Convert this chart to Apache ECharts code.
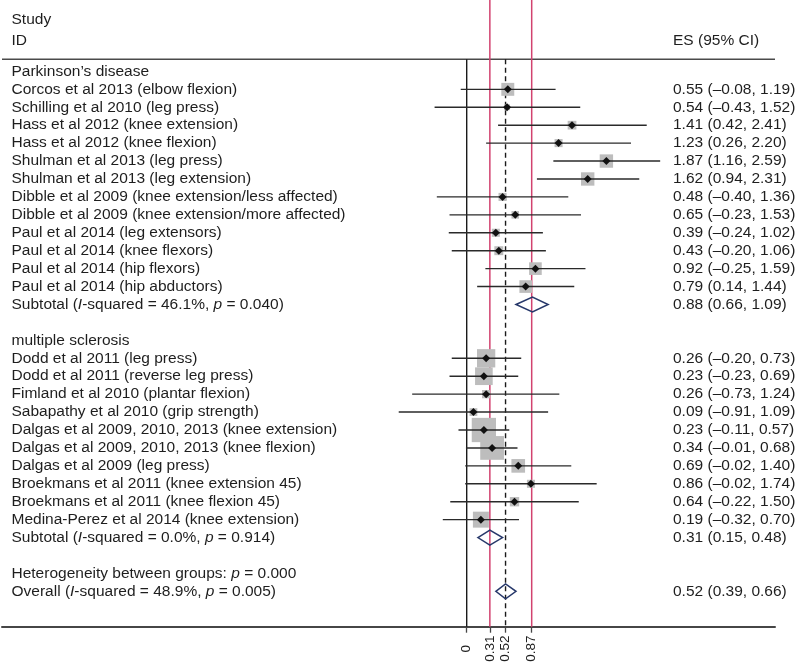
<!DOCTYPE html>
<html><head><meta charset="utf-8">
<script src="https://cdn.jsdelivr.net/npm/echarts@6/dist/echarts.min.js"></script>
<style>html,body{margin:0;padding:0;background:#fff}#c{width:800px;height:666px}</style>
</head><body><div id="c"></div>
<script>
// ---------------- DATA ----------------
const group1Title = 'Parkinson’s disease';
const group1Studies = [
  'Corcos et al 2013 (elbow flexion)',
  'Schilling et al 2010 (leg press)',
  'Hass et al 2012 (knee extension)',
  'Hass et al 2012 (knee flexion)',
  'Shulman et al 2013 (leg press)',
  'Shulman et al 2013 (leg extension)',
  'Dibble et al 2009 (knee extension/less affected)',
  'Dibble et al 2009 (knee extension/more affected)',
  'Paul et al 2014 (leg extensors)',
  'Paul et al 2014 (knee flexors)',
  'Paul et al 2014 (hip flexors)',
  'Paul et al 2014 (hip abductors)'
];
const group1ES = [0.55, 0.54, 1.41, 1.23, 1.87, 1.62, 0.48, 0.65, 0.39, 0.43, 0.92, 0.79];
const group1Lo = [-0.08, -0.43, 0.42, 0.26, 1.16, 0.94, -0.40, -0.23, -0.24, -0.20, 0.25, 0.14];
const group1Hi = [1.19, 1.52, 2.41, 2.20, 2.59, 2.31, 1.36, 1.53, 1.02, 1.06, 1.59, 1.44];
const group1Weight = [4.4, 0.9, 2.0, 1.7, 4.7, 4.7, 1.7, 1.5, 1.7, 2.1, 4.2, 4.2];
const group1Text = [
  '0.55 (–0.08, 1.19)', '0.54 (–0.43, 1.52)', '1.41 (0.42, 2.41)', '1.23 (0.26, 2.20)',
  '1.87 (1.16, 2.59)', '1.62 (0.94, 2.31)', '0.48 (–0.40, 1.36)', '0.65 (–0.23, 1.53)',
  '0.39 (–0.24, 1.02)', '0.43 (–0.20, 1.06)', '0.92 (–0.25, 1.59)', '0.79 (0.14, 1.44)'
];
const group1Subtotal = [0.88, 0.66, 1.09];
const group1SubtotalLabel = 'Subtotal ({i|I}-squared = 46.1%, {i|p} = 0.040)';
const group1SubtotalText = '0.88 (0.66, 1.09)';

const group2Title = 'multiple sclerosis';
const group2Studies = [
  'Dodd et al 2011 (leg press)',
  'Dodd et al 2011 (reverse leg press)',
  'Fimland et al 2010 (plantar flexion)',
  'Sabapathy et al 2010 (grip strength)',
  'Dalgas et al 2009, 2010, 2013 (knee extension)',
  'Dalgas et al 2009, 2010, 2013 (knee flexion)',
  'Dalgas et al 2009 (leg press)',
  'Broekmans et al 2011 (knee extension 45)',
  'Broekmans et al 2011 (knee flexion 45)',
  'Medina-Perez et al 2014 (knee extension)'
];
const group2ES = [0.26, 0.23, 0.26, 0.09, 0.23, 0.34, 0.69, 0.86, 0.64, 0.19];
const group2Lo = [-0.20, -0.23, -0.73, -0.91, -0.11, -0.01, -0.02, -0.02, -0.22, -0.32];
const group2Hi = [0.73, 0.69, 1.24, 1.09, 0.57, 0.68, 1.40, 1.74, 1.50, 0.70];
const group2Weight = [8.8, 8.2, 1.8, 1.6, 15.5, 14.8, 4.9, 1.7, 2.3, 6.7];
const group2Text = [
  '0.26 (–0.20, 0.73)', '0.23 (–0.23, 0.69)', '0.26 (–0.73, 1.24)', '0.09 (–0.91, 1.09)',
  '0.23 (–0.11, 0.57)', '0.34 (–0.01, 0.68)', '0.69 (–0.02, 1.40)', '0.86 (–0.02, 1.74)',
  '0.64 (–0.22, 1.50)', '0.19 (–0.32, 0.70)'
];
const group2Subtotal = [0.31, 0.15, 0.48];
const group2SubtotalLabel = 'Subtotal ({i|I}-squared = 0.0%, {i|p} = 0.914)';
const group2SubtotalText = '0.31 (0.15, 0.48)';

const heterogeneityLabel = 'Heterogeneity between groups: {i|p} = 0.000';
const overall = [0.52, 0.39, 0.66];
const overallLabel = 'Overall ({i|I}-squared = 48.9%, {i|p} = 0.005)';
const overallText = '0.52 (0.39, 0.66)';

const headerLeft1 = 'Study';
const headerLeft2 = 'ID';
const headerRight = 'ES (95% CI)';

const nullLine = 0;
const redLines = [0.31, 0.87];
const dashedLine = 0.52;
const tickValues = [0, 0.31, 0.52, 0.87];

// ---------------- LAYOUT ----------------
const PX_ZERO = 466.7, PX_UNIT = 74.7;
const GRID_L = 2, GRID_R = 775;
const X_MIN = (GRID_L - PX_ZERO) / PX_UNIT;
const X_MAX = (GRID_R - PX_ZERO) / PX_UNIT;
const ROW0_PX = 71.4, ROW_STEP = 17.93, AXIS_PX = 626.7;
const Y_MIN = -ROW0_PX / ROW_STEP;
const Y_MAX = (AXIS_PX - ROW0_PX) / ROW_STEP;
const HEADER_LINE_ROW = (59.3 - ROW0_PX) / ROW_STEP;
const LEFT_TEXT_OFFSET = 9.5;
const RIGHT_TEXT_PX = 673;
const FONT = '"Liberation Sans", Arial, Helvetica, sans-serif';
const FS = 15.5;
const TEXT_COLOR = '#1e1e1e';
const SQ_K = 6.17;
const DIAMOND_H = 7.5;

// build rows
const studyData = [];   // [es, lo, hi, row, w]
const diamondData = []; // [es, lo, hi, row]
const textRows = [];    // {row, left, right}
let r = 0;
textRows.push({row: r++, left: group1Title});
group1Studies.forEach((s, i) => {
  studyData.push([group1ES[i], group1Lo[i], group1Hi[i], r, group1Weight[i]]);
  textRows.push({row: r++, left: s, right: group1Text[i]});
});
diamondData.push([group1Subtotal[0], group1Subtotal[1], group1Subtotal[2], r]);
textRows.push({row: r++, left: group1SubtotalLabel, right: group1SubtotalText});
r++;
textRows.push({row: r++, left: group2Title});
group2Studies.forEach((s, i) => {
  studyData.push([group2ES[i], group2Lo[i], group2Hi[i], r, group2Weight[i]]);
  textRows.push({row: r++, left: s, right: group2Text[i]});
});
diamondData.push([group2Subtotal[0], group2Subtotal[1], group2Subtotal[2], r]);
textRows.push({row: r++, left: group2SubtotalLabel, right: group2SubtotalText});
r++;
textRows.push({row: r++, left: heterogeneityLabel});
diamondData.push([overall[0], overall[1], overall[2], r]);
textRows.push({row: r++, left: overallLabel, right: overallText});
textRows.push({row: (19.5 - ROW0_PX) / ROW_STEP, left: headerLeft1});
textRows.push({row: (40.4 - ROW0_PX) / ROW_STEP, left: headerLeft2, right: headerRight});

// vertical lines: [x, yTopRow, yBottomRow, kind]
const vlines = [
  [nullLine, HEADER_LINE_ROW, Y_MAX, 0],
  [redLines[0], Y_MIN, Y_MAX, 1],
  [redLines[1], Y_MIN, Y_MAX, 1],
  [dashedLine, HEADER_LINE_ROW, Y_MAX, 2]
];
const vStyles = [
  {stroke: '#1a1a1a', lineWidth: 1.4},
  {stroke: '#d2426f', lineWidth: 1.5},
  {stroke: '#1a1a1a', lineWidth: 1.4, lineDash: [5, 3.5]}
];

const richI = {i: {fontStyle: 'italic', fontSize: FS, fontFamily: FONT, fill: TEXT_COLOR}};

const chart = echarts.init(document.getElementById('c'), null, {renderer: 'canvas'});
chart.setOption({
  animation: false,
  backgroundColor: '#fff',
  grid: {left: GRID_L, right: 800 - GRID_R, top: 0, bottom: 666 - AXIS_PX, containLabel: false, outerBoundsMode: 'none'},
  xAxis: {
    type: 'value', min: X_MIN, max: X_MAX,
    splitLine: {show: false},
    axisLine: {show: true, onZero: false, lineStyle: {color: '#464646', width: 2}},
    axisTick: {show: true, customValues: tickValues, length: 6, lineStyle: {color: '#464646', width: 1.3}},
    axisLabel: {
      show: true, customValues: tickValues, rotate: 90, align: 'center', verticalAlign: 'middle',
      margin: 22, fontSize: 13.5, fontFamily: FONT, color: TEXT_COLOR,
      formatter: v => String(Math.round(v * 100) / 100)
    }
  },
  yAxis: {type: 'value', inverse: true, min: Y_MIN, max: Y_MAX, show: false},
  series: [
    {
      type: 'custom', z: 1, silent: true,
      data: [[X_MIN, X_MAX, HEADER_LINE_ROW]],
      renderItem: (params, api) => {
        const a = api.coord([api.value(0), api.value(2)]);
        const b = api.coord([api.value(1), api.value(2)]);
        return {type: 'line', shape: {x1: a[0], y1: a[1], x2: b[0], y2: b[1]}, style: {stroke: '#4a4a4a', lineWidth: 1.4}};
      }
    },
    {
      type: 'custom', z: 2, silent: true,
      data: vlines,
      renderItem: (params, api) => {
        const a = api.coord([api.value(0), api.value(1)]);
        const b = api.coord([api.value(0), api.value(2)]);
        return {type: 'line', shape: {x1: a[0], y1: a[1], x2: b[0], y2: b[1]}, style: Object.assign({}, vStyles[api.value(3)])};
      }
    },
    {
      type: 'custom', z: 3, silent: true,
      data: studyData,
      renderItem: (params, api) => {
        const es = api.value(0), lo = api.value(1), hi = api.value(2), row = api.value(3), w = api.value(4);
        const p = api.coord([es, row]);
        const pl = api.coord([lo, row]);
        const ph = api.coord([hi, row]);
        const s = SQ_K * Math.sqrt(w);
        const d = 4;
        return {type: 'group', children: [
          {type: 'rect', shape: {x: p[0] - s / 2, y: p[1] - s / 2, width: s, height: s}, style: {fill: '#bdbdbd'}},
          {type: 'line', shape: {x1: pl[0], y1: p[1], x2: ph[0], y2: p[1]}, style: {stroke: '#2a2a2a', lineWidth: 1.4}},
          {type: 'polygon', shape: {points: [[p[0], p[1] - d], [p[0] + d, p[1]], [p[0], p[1] + d], [p[0] - d, p[1]]]}, style: {fill: '#111'}}
        ]};
      }
    },
    {
      type: 'custom', z: 4, silent: true,
      data: diamondData,
      renderItem: (params, api) => {
        const es = api.value(0), lo = api.value(1), hi = api.value(2), row = api.value(3);
        const p = api.coord([es, row]);
        const pl = api.coord([lo, row]);
        const ph = api.coord([hi, row]);
        return {type: 'polygon', shape: {points: [[pl[0], p[1]], [p[0], p[1] - DIAMOND_H], [ph[0], p[1]], [p[0], p[1] + DIAMOND_H]]},
          style: {fill: 'none', stroke: '#27386a', lineWidth: 1.5}};
      }
    },
    {
      type: 'custom', z: 5, silent: true,
      data: textRows.map((t, i) => [X_MIN, t.row, i]),
      renderItem: (params, api) => {
        const t = textRows[api.value(2)];
        const p = api.coord([api.value(0), api.value(1)]);
        const children = [];
        if (t.left) children.push({type: 'text', x: p[0] + LEFT_TEXT_OFFSET, y: p[1],
          style: {text: t.left, fontSize: FS, fontFamily: FONT, fill: TEXT_COLOR, verticalAlign: 'middle', align: 'left', rich: richI}});
        if (t.right) children.push({type: 'text', x: RIGHT_TEXT_PX, y: p[1],
          style: {text: t.right, fontSize: FS, fontFamily: FONT, fill: TEXT_COLOR, verticalAlign: 'middle', align: 'left'}});
        return {type: 'group', children};
      }
    }
  ]
});
</script>
</body></html>
